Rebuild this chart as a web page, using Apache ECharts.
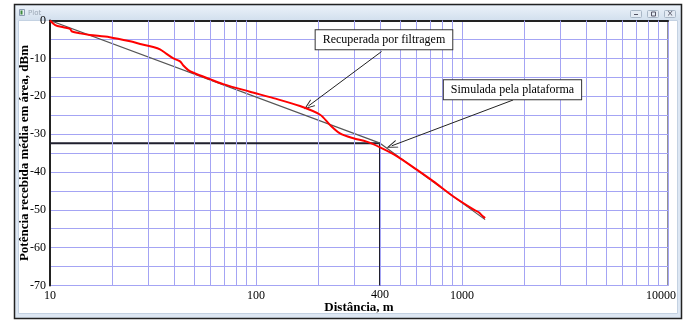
<!DOCTYPE html>
<html>
<head>
<meta charset="utf-8">
<script src="https://cdn.jsdelivr.net/npm/echarts@6/dist/echarts.min.js"></script>
<style>
html,body{margin:0;padding:0;background:#fff;}
#c{width:689px;height:320px;}
</style>
</head>
<body>
<div id="c"></div>
<script>
// ---- data ----
var recDist  = [10, 10.6, 11.6, 12.5, 12.8, 14, 15.6, 19.5, 24.5, 27.4, 31.7, 34.2, 36.8, 39.7, 42.8, 44.4, 46.9, 49.7, 59.8, 69.3, 93.4, 121.5, 163.4, 204.8, 228.8, 255.7, 296.8, 344.3, 400, 482, 603, 726, 908, 1135, 1201, 1267, 1295];
var recPower = [0, -1.2, -1.8, -2.2, -2.9, -3.4, -3.8, -4.4, -5.5, -6.2, -7.0, -7.6, -8.8, -10.0, -10.8, -11.9, -13.1, -13.8, -15.5, -16.8, -18.8, -20.5, -22.6, -24.9, -27.6, -29.8, -31.1, -32.0, -33.5, -35.8, -39.4, -42.5, -46.5, -49.9, -50.6, -51.8, -52.2];
var simDist  = [10, 400, 1295];
var simPower = [0, -32.4, -52.6];
var refDist  = [10, 400, 400];
var refPower = [-32.4, -32.4, -70];
var minorGridX = [20,30,40,50,60,70,80,90,200,300,400,500,600,700,800,900,2000,3000,4000,5000,6000,7000,8000,9000];
var extraTickLabel = '400';
var annRec = {text:'Recuperada por filtragem', box:[418,-5.1], from:[407,-8.2], to:[179.5,-22.6]};
var annSim = {text:'Simulada pela plataforma', box:[1758,-18.3], from:[1770,-21.0], to:[456,-33.1]};
var xName = 'Distância, m';
var yName = 'Potência recebida média em área, dBm';

function pairs(a,b){ return a.map(function(v,i){ return [v,b[i]]; }); }

var FONT = '"Liberation Serif","DejaVu Serif",serif';
var GRIDC = '#a4a4f4';
var chevron = 'path://M5,0 L10,12 L8.8,12 L5,3 L1.2,12 L0,12 Z';

function annotation(a){
  return {
    markPoint: {
      silent: true,
      symbol: 'rect', symbolSize: [1,1],
      itemStyle: {color: 'transparent'},
      label: {
        show: true, position: 'inside', formatter: '{b}',
        color: '#000', fontFamily: FONT, fontSize: 12,
        backgroundColor: '#fff', borderColor: '#333', borderWidth: 1,
        padding: [4,7,3,7]
      },
      data: [{name: a.text, coord: a.box}]
    },
    markLine: {
      silent: true,
      symbol: ['none', chevron], symbolSize: [8,11],
      lineStyle: {color: '#222', width: 1, type: 'solid'},
      label: {show: false},
      data: [[{coord: a.from}, {coord: a.to}]]
    }
  };
}

var chart = echarts.init(document.getElementById('c'), null, {renderer: 'canvas'});

var annR = annotation(annRec), annS = annotation(annSim);

chart.setOption({
  animation: false,
  backgroundColor: '#fff',
  graphic: [
    {type:'rect', z:-10, shape:{x:14.5,y:4.5,width:667,height:314}, style:{fill:'#dde7f3', stroke:'#222', lineWidth:1.5}},
    {type:'rect', z:-9, shape:{x:16,y:6,width:664,height:14}, style:{fill:new echarts.graphic.LinearGradient(0,0,0,1,[{offset:0,color:'#eaf1f9'},{offset:1,color:'#d3e0ee'}])}},
    {type:'rect', z:-8, shape:{x:18.5,y:20.5,width:659,height:293}, style:{fill:'#fff', stroke:'#c4d2e2', lineWidth:1}},
    {type:'rect', z:-7, shape:{x:19.5,y:9.5,width:5,height:6}, style:{fill:'#e8eef5', stroke:'#8a9bb0', lineWidth:1}},
    {type:'rect', z:-7, shape:{x:20.5,y:10.5,width:2,height:4}, style:{fill:'#3c8a3c'}},
    {type:'text', z:-7, style:{x:28, y:13, text:'Plot', fill:'#9aa6b4', font:'7px "DejaVu Sans",sans-serif', verticalAlign:'middle'}},
    {type:'rect', z:-7, shape:{x:630.5,y:10.5,width:11,height:7, r:1}, style:{fill:'#e4ebf4', stroke:'#a8b6c6', lineWidth:1}},
    {type:'rect', z:-7, shape:{x:647.5,y:10.5,width:11,height:7, r:1}, style:{fill:'#e4ebf4', stroke:'#a8b6c6', lineWidth:1}},
    {type:'rect', z:-7, shape:{x:664.5,y:10.5,width:11,height:7, r:1}, style:{fill:'#e4ebf4', stroke:'#a8b6c6', lineWidth:1}},
    {type:'rect', z:-6, shape:{x:634,y:14,width:4,height:1}, style:{fill:'#556'}},
    {type:'rect', z:-6, shape:{x:651.5,y:12,width:4,height:4}, style:{fill:'none', stroke:'#556', lineWidth:1}},
    {type:'text', z:-6, style:{x:670, y:14, text:'×', fill:'#556', font:'8px "DejaVu Sans",sans-serif', align:'center', verticalAlign:'middle'}}
  ],
  grid: {left: 50, top: 20.5, width: 618, height: 265, show: true, borderColor: '#222', borderWidth: 1, backgroundColor: 'transparent'},
  xAxis: {
    type: 'log', logBase: 10, min: 10, max: 10000,
    name: xName, nameLocation: 'middle', nameGap: 16, nameMoveOverlap: false,
    nameTextStyle: {fontFamily: FONT, fontSize: 13, fontWeight: 'bold', color: '#000'},
    axisLine: {show: true, lineStyle: {color: '#222', width: 2}},
    axisTick: {show: false},
    axisLabel: {
      fontFamily: FONT, fontSize: 12, color: '#000', margin: 4,
      formatter: function(v){ return v >= 10000 ? '{r|' + v + '}' : String(v); },
      rich: {r: {fontFamily: FONT, fontSize: 12, color: '#000', padding: [0,14,0,0]}}
    },
    splitLine: {show: true, lineStyle: {color: GRIDC, width: 1}}
  },
  yAxis: {
    type: 'value', min: -70, max: 0, interval: 10,
    name: yName, nameLocation: 'middle', nameGap: 19, nameRotate: 90, nameMoveOverlap: false,
    nameTextStyle: {fontFamily: FONT, fontSize: 13, fontWeight: 'bold', color: '#000'},
    axisLine: {show: true, lineStyle: {color: '#222', width: 2}},
    axisTick: {show: false},
    minorTick: {show: false, splitNumber: 2},
    minorSplitLine: {show: true, lineStyle: {color: GRIDC, width: 1}},
    axisLabel: {fontFamily: FONT, fontSize: 12, color: '#000', margin: 4},
    splitLine: {show: true, lineStyle: {color: GRIDC, width: 1}}
  },
  series: [
    {
      name: 'grid', type: 'line', z: 1, silent: true,
      data: [[10,-70]], showSymbol: false, lineStyle: {opacity: 0},
      markLine: {
        silent: true, symbol: ['none','none'], label: {show: false},
        lineStyle: {color: GRIDC, width: 1, type: 'solid'},
        data: minorGridX.map(function(x){ return {xAxis: x}; })
      }
    },
    {
      name: 'ref', type: 'line', z: 3, silent: true,
      data: pairs(refDist, refPower), showSymbol: false,
      lineStyle: {color: '#1f1f2e', width: 2},
      markPoint: {
        silent: true, symbol: 'rect', symbolSize: [1,1], itemStyle: {color: 'transparent'},
        label: {show: true, position: 'bottom', distance: 3, formatter: extraTickLabel,
                fontFamily: FONT, fontSize: 12, color: '#000'},
        data: [{coord: [refDist[2], refPower[2]]}]
      }
    },
    {
      name: 'Simulada pela plataforma', type: 'line', z: 4,
      data: pairs(simDist, simPower), showSymbol: false,
      lineStyle: {color: '#555', width: 1.2}
    },
    {
      name: 'Recuperada por filtragem', type: 'line', z: 5,
      data: pairs(recDist, recPower), showSymbol: false, smooth: 0.3,
      lineStyle: {color: '#ff0000', width: 2}
    },
    Object.assign({name: 'annR', type: 'line', z: 6, data: [], silent: true}, annR),
    Object.assign({name: 'annS', type: 'line', z: 6, data: [], silent: true}, annS)
  ]
});
</script>
</body>
</html>
